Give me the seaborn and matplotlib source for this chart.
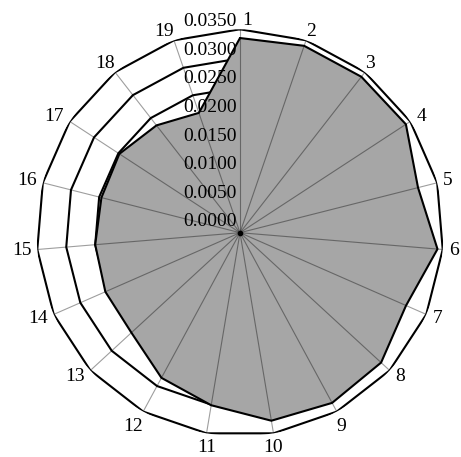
import numpy as np
import matplotlib
matplotlib.use("Agg")
import matplotlib.pyplot as plt
import seaborn as sns

# ---- data ----
categories = [str(i) for i in range(1, 20)]
values = [0.0335, 0.0340, 0.0340, 0.0341, 0.0316, 0.0341, 0.0312, 0.0330, 0.0333,
          0.0328, 0.0301, 0.0284, 0.0254, 0.0253, 0.0250, 0.0246, 0.0248, 0.0234, 0.0218]
tick_values = [0.0000, 0.0050, 0.0100, 0.0150, 0.0200, 0.0250, 0.0300, 0.0350]
tick_labels = ["0.0000", "0.0050", "0.0100", "0.0150", "0.0200", "0.0250", "0.0300", "0.0350"]

sns.set_theme(style="white")
plt.rcParams['font.family'] = ['Liberation Serif', 'DejaVu Serif']

W, H, DPI = 461, 457, 100
fig = plt.figure(figsize=(W / DPI, H / DPI), dpi=DPI)
cx, cy, R = 240.0, 232.7, 203.4
ax = fig.add_axes([(cx - R) / W, (H - cy - R) / H, 2 * R / W, 2 * R / H], projection='polar')
ax.set_theta_zero_location('N')
ax.set_theta_direction(-1)
rmax = tick_values[-1]
ax.set_ylim(0, rmax)
ax.set_axis_off()

n = len(categories)
theta = np.arange(n) * 2 * np.pi / n
theta_c = np.append(theta, theta[0])

# polygon gridlines (behind the filled series)
for tv in tick_values[1:]:
    ax.plot(theta_c, [tv] * (n + 1), color='black', lw=1.5, zorder=1, solid_joinstyle='miter')

# filled series
vals_c = np.append(values, values[0])
ax.fill(theta_c, vals_c, color='#a6a6a6', zorder=2, lw=0)
sns.lineplot(x=theta_c, y=vals_c, sort=False, estimator=None, ax=ax, color='black',
             lw=1.5, zorder=3)

# spokes on top
for t in theta:
    ax.plot([t, t], [0, rmax], color='black', alpha=0.38, lw=0.8, zorder=4)
ax.plot([0], [0], marker='o', ms=3, color='black', zorder=5)

# radial tick labels along first spoke
for k, (tv, tl) in enumerate(zip(tick_values, tick_labels)):
    ax.annotate(tl, xy=(0, tv), xytext=(-3, 11 - 0.5 * k), textcoords='offset pixels',
                ha='right', va='center', fontsize=14, color='black', zorder=6,
                annotation_clip=False)

# category labels
for t, lab in zip(theta, categories):
    s, c = np.sin(t), np.cos(t)
    if c >= 0.7:
        va, dy = 'bottom', 0
        ha = 'left' if s >= 0 else 'right'
        dx = 2 if abs(t) < 1e-9 else 0
    elif c <= -0.7:
        va, dy = 'top', -6
        ha = 'center' if abs(s) < 0.3 else ('left' if s > 0 else 'right')
        dx = 0
    else:
        va, dy = 'center', 9 * c
        ha = 'left' if s > 0 else 'right'
        dx = 6 if s > 0 else -6
    ax.annotate(lab, xy=(t, rmax), xytext=(dx, dy), textcoords='offset pixels',
                ha=ha, va=va, fontsize=14, color='black', annotation_clip=False)

fig.savefig('out.png', dpi=DPI)
